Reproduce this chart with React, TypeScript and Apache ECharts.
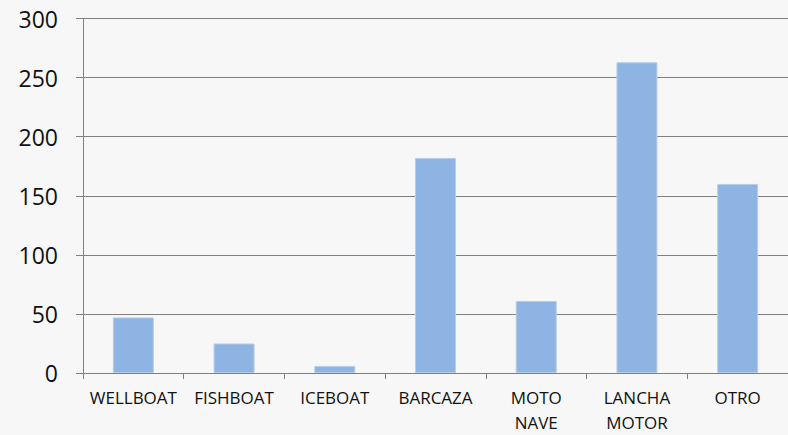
import React, { useEffect, useRef } from "react";
import * as echarts from "echarts";

const categories = ["WELLBOAT", "FISHBOAT", "ICEBOAT", "BARCAZA", "MOTO\nNAVE", "LANCHA\nMOTOR", "OTRO"];
const values = [47, 25, 6, 182, 61, 263, 160];
const yMin = 0;
const yMax = 300;
const yStep = 50;

export default function App() {
  const ref = useRef<HTMLDivElement>(null);
  useEffect(() => {
    if (!ref.current) return;
    const chart = echarts.init(ref.current, null, { renderer: "svg" });
    chart.setOption({
      animation: false,
      backgroundColor: "#f7f7f7",
      grid: { left: 83, top: 18.5, width: 709, height: 357.5, containLabel: false },
      xAxis: {
        type: "category",
        data: categories,
        boundaryGap: true,
        axisLine: { show: true, lineStyle: { color: "#808080", width: 1 } },
        axisTick: { show: true, length: 6, lineStyle: { color: "#808080" }, alignWithLabel: false },
        axisLabel: {
          color: "#111",
          fontFamily: "Open Sans",
          fontSize: 17,
          lineHeight: 25,
          margin: 12,
          interval: 0,
        },
        splitLine: { show: false },
      },
      yAxis: {
        type: "value",
        min: yMin,
        max: yMax,
        interval: yStep,
        axisLine: { show: true, lineStyle: { color: "#808080", width: 1 } },
        axisTick: { show: true, length: 7, lineStyle: { color: "#808080" } },
        axisLabel: {
          color: "#111",
          fontFamily: "Open Sans",
          fontSize: 23,
          margin: 25,
        },
        splitLine: { show: true, lineStyle: { color: "#808080", width: 1.2 } },
      },
      series: [
        {
          type: "bar",
          data: values,
          barWidth: 41,
          itemStyle: { color: "#8eb4e3", borderColor: "#b9cde5", borderWidth: 1 },
        },
      ],
    });
    return () => chart.dispose();
  }, []);
  return (
    <div
      ref={ref}
      style={{ position: "fixed", left: 0, top: 0, width: 788, height: 435 }}
    />
  );
}
